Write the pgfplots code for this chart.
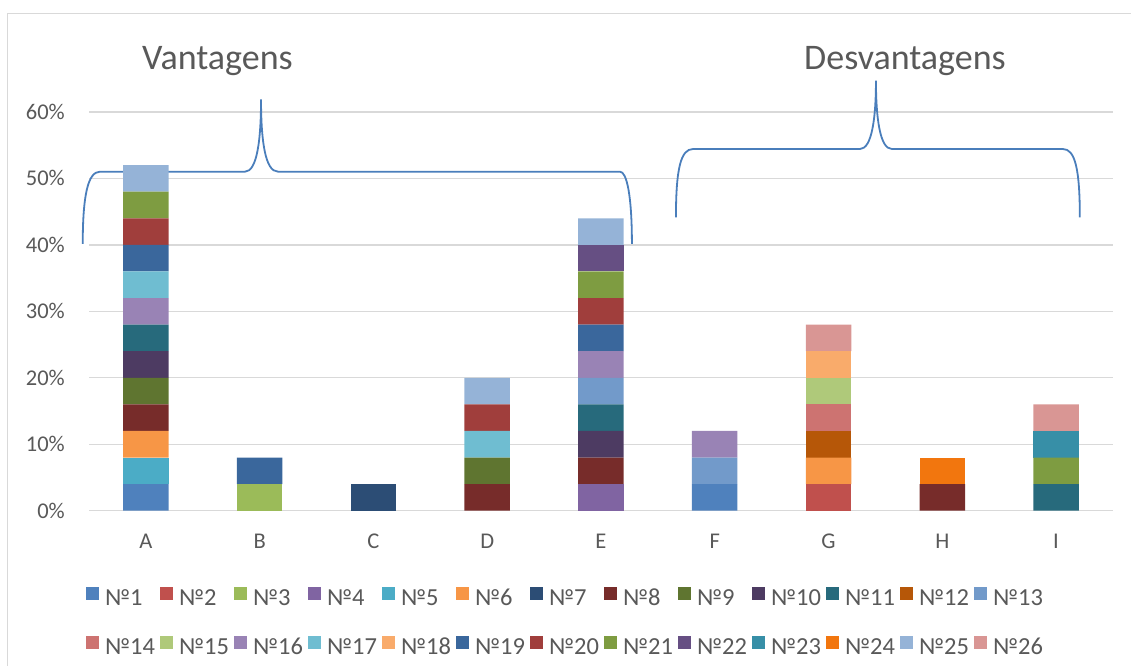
\documentclass[border=0pt]{standalone}
\usepackage{fontspec}
\setmainfont{Carlito}
\usepackage{pgfplots}
\usepackage{pgfplotstable}
\pgfplotsset{compat=1.18}

% series palette
\definecolor{c1}{HTML}{4F81BD}
\definecolor{c2}{HTML}{C0504D}
\definecolor{c3}{HTML}{9BBB59}
\definecolor{c4}{HTML}{8064A2}
\definecolor{c5}{HTML}{4BACC6}
\definecolor{c6}{HTML}{F79646}
\definecolor{c7}{HTML}{2C4D75}
\definecolor{c8}{HTML}{772C2A}
\definecolor{c9}{HTML}{5F7530}
\definecolor{c10}{HTML}{4D3B62}
\definecolor{c11}{HTML}{276A7C}
\definecolor{c12}{HTML}{B65708}
\definecolor{c13}{HTML}{729ACA}
\definecolor{c14}{HTML}{CD7371}
\definecolor{c15}{HTML}{AFC97A}
\definecolor{c16}{HTML}{9983B5}
\definecolor{c17}{HTML}{6FBDD1}
\definecolor{c18}{HTML}{F9AB6B}
\definecolor{c19}{HTML}{3A679C}
\definecolor{c20}{HTML}{A03E3C}
\definecolor{c21}{HTML}{7E9C41}
\definecolor{c22}{HTML}{664F83}
\definecolor{c23}{HTML}{378FA7}
\definecolor{c24}{HTML}{F2760E}
\definecolor{c25}{HTML}{95B3D7}
\definecolor{c26}{HTML}{D99694}
\definecolor{txt}{HTML}{595959}
\definecolor{gridc}{HTML}{D9D9D9}
\definecolor{brace}{HTML}{4A7EBB}

% share (in %) of each item per category A..I (x = 0..8)
\pgfplotstableread{
x s1 s2 s3 s4 s5 s6 s7 s8 s9 s10 s11 s12 s13 s14 s15 s16 s17 s18 s19 s20 s21 s22 s23 s24 s25 s26
0 4 0 0 0 4 4 0 4 4 4 4 0 0 0 0 4 4 0 4 4 4 0 0 0 4 0
1 0 0 4 0 0 0 0 0 0 0 0 0 0 0 0 0 0 0 4 0 0 0 0 0 0 0
2 0 0 0 0 0 0 4 0 0 0 0 0 0 0 0 0 0 0 0 0 0 0 0 0 0 0
3 0 0 0 0 0 0 0 4 4 0 0 0 0 0 0 0 4 0 0 4 0 0 0 0 4 0
4 0 0 0 4 0 0 0 4 0 4 4 0 4 0 0 4 0 0 4 4 4 4 0 0 4 0
5 4 0 0 0 0 0 0 0 0 0 0 0 4 0 0 4 0 0 0 0 0 0 0 0 0 0
6 0 4 0 0 0 4 0 0 0 0 0 4 0 4 4 0 0 4 0 0 0 0 0 0 0 4
7 0 0 0 0 0 0 0 4 0 0 0 0 0 0 0 0 0 0 0 0 0 0 0 4 0 0
8 0 0 0 0 0 0 0 0 0 0 4 0 0 0 0 0 0 0 0 0 4 0 4 0 0 4
}\data

\pgfplotsset{seg/.style={fill=#1, draw=none}}

\begin{document}
\begin{tikzpicture}
\path[use as bounding box] (0,0) rectangle (1131bp,666bp);
% chart frame
\draw[gridc, line width=1.3bp] (7.3bp,-5bp) |- (1140bp,652.7bp);
\begin{axis}[
  at={(89bp,155.3bp)}, anchor=south west,
  scale only axis, width=1024bp, height=398.7bp,
  ybar stacked, bar width=0.4,
  xmin=-0.5, xmax=8.5, ymin=0, ymax=60,
  xtick={0,...,8},
  xticklabels={A,B,C,D,E,F,G,H,I},
  ytick={0,10,...,60},
  yticklabels={0\%,10\%,20\%,30\%,40\%,50\%,60\%},
  major tick length=0pt,
  tick style={draw=none},
  axis line style={draw=none},
  ymajorgrids,
  major grid style={draw=gridc, line width=1.3bp},
  clip=false,
  xticklabel style={font=\fontsize{22.5bp}{27bp}\selectfont, text=txt, inner sep=0pt, text height=15bp, text depth=0bp, anchor=north, yshift=-22.6bp},
  yticklabel style={font=\fontsize{22.5bp}{27bp}\selectfont, text=txt, inner sep=0pt, text height=15bp, text depth=0bp, anchor=east, xshift=-24bp},
  every axis plot post/.append style={
    legend image code/.code={\fill[##1] (0bp,0bp) rectangle (13bp,13bp); \path (19bp,0bp);}},
  legend columns=13,
  legend cell align=left,
  legend style={
    at={(-0.0029,-0.1921)}, anchor=north west,
    draw=none, fill=none, inner sep=0pt, outer sep=0pt,
    row sep=26bp, column sep=0pt,
    nodes={inner sep=0pt, text height=15bp, text depth=4bp, text width=48bp, align=left,
      font=\fontsize{24.5bp}{29bp}\selectfont, text=txt},
    /tikz/every even column/.append style={column sep=7bp},
    /tikz/column 14/.append style={column sep=24.4bp},
    /tikz/column 22/.append style={column sep=13.3bp},
    /tikz/column 24/.append style={column sep=0.3bp},
  },
]
\addplot[seg=c1]  table[x=x,y=s1]{\data};  \addlegendentry{№1}
\addplot[seg=c2]  table[x=x,y=s2]{\data};  \addlegendentry{№2}
\addplot[seg=c3]  table[x=x,y=s3]{\data};  \addlegendentry{№3}
\addplot[seg=c4]  table[x=x,y=s4]{\data};  \addlegendentry{№4}
\addplot[seg=c5]  table[x=x,y=s5]{\data};  \addlegendentry{№5}
\addplot[seg=c6]  table[x=x,y=s6]{\data};  \addlegendentry{№6}
\addplot[seg=c7]  table[x=x,y=s7]{\data};  \addlegendentry{№7}
\addplot[seg=c8]  table[x=x,y=s8]{\data};  \addlegendentry{№8}
\addplot[seg=c9]  table[x=x,y=s9]{\data};  \addlegendentry{№9}
\addplot[seg=c10] table[x=x,y=s10]{\data}; \addlegendentry{№10}
\addplot[seg=c11] table[x=x,y=s11]{\data}; \addlegendentry{№11}
\addplot[seg=c12] table[x=x,y=s12]{\data}; \addlegendentry{№12}
\addplot[seg=c13] table[x=x,y=s13]{\data}; \addlegendentry{№13}
\addplot[seg=c14] table[x=x,y=s14]{\data}; \addlegendentry{№14}
\addplot[seg=c15] table[x=x,y=s15]{\data}; \addlegendentry{№15}
\addplot[seg=c16] table[x=x,y=s16]{\data}; \addlegendentry{№16}
\addplot[seg=c17] table[x=x,y=s17]{\data}; \addlegendentry{№17}
\addplot[seg=c18] table[x=x,y=s18]{\data}; \addlegendentry{№18}
\addplot[seg=c19] table[x=x,y=s19]{\data}; \addlegendentry{№19}
\addplot[seg=c20] table[x=x,y=s20]{\data}; \addlegendentry{№20}
\addplot[seg=c21] table[x=x,y=s21]{\data}; \addlegendentry{№21}
\addplot[seg=c22] table[x=x,y=s22]{\data}; \addlegendentry{№22}
\addplot[seg=c23] table[x=x,y=s23]{\data}; \addlegendentry{№23}
\addplot[seg=c24] table[x=x,y=s24]{\data}; \addlegendentry{№24}
\addplot[seg=c25] table[x=x,y=s25]{\data}; \addlegendentry{№25}
\addplot[seg=c26] table[x=x,y=s26]{\data}; \addlegendentry{№26}

% grouping braces
\draw[brace, line width=1.8bp]
  (-0.555,40.14) .. controls (-0.555,47.51) and (-0.509,51.02) .. (-0.403,51.02)
  -- (0.871,51.02) .. controls (0.977,51.02) and (1.012,55.79) .. (1.012,61.91)
  .. controls (1.012,55.79) and (1.047,51.02) .. (1.161,51.02)
  -- (4.167,51.02) .. controls (4.226,51.02) and (4.272,47.51) .. (4.272,40.14);
\draw[brace, line width=1.8bp]
  (4.659,44.15) .. controls (4.659,51.57) and (4.703,54.43) .. (4.809,54.43)
  -- (6.276,54.43) .. controls (6.381,54.43) and (6.417,59.10) .. (6.417,64.71)
  .. controls (6.417,59.10) and (6.452,54.43) .. (6.557,54.43)
  -- (8.060,54.43) .. controls (8.165,54.43) and (8.209,51.57) .. (8.209,44.15);
\node[anchor=base, text=txt, font=\fontsize{36bp}{43bp}\selectfont, inner sep=0pt] at (0.629,66.33) {Vantagens};
\node[anchor=base, text=txt, font=\fontsize{36bp}{43bp}\selectfont, inner sep=0pt] at (6.672,66.43) {Desvantagens};
\end{axis}
\end{tikzpicture}
\end{document}
